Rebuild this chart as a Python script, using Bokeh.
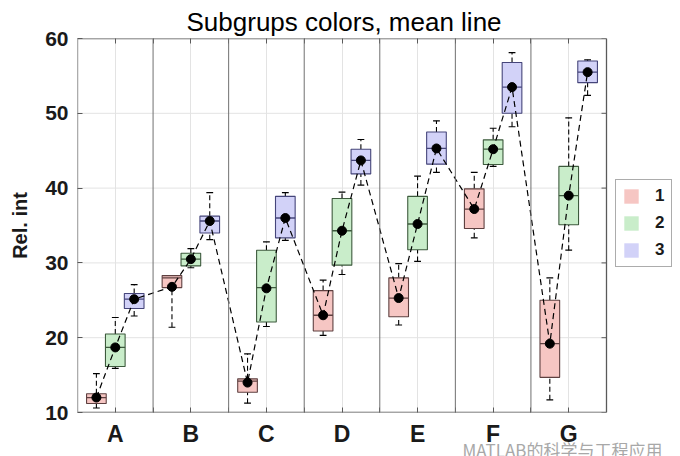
from bokeh.plotting import figure
from bokeh.models import (Span, Legend, LegendItem, LinearAxis, Title,
                          FixedTicker, ColumnDataSource)
from bokeh.embed import file_html
from bokeh.resources import INLINE

groups = ["A", "B", "C", "D", "E", "F", "G"]
subgroups = ["1", "2", "3"]

# subgroup 1 (red)
lo1 = [10.6, 21.4, 11.25, 20.3, 21.7, 33.35, 11.7]
q1_1 = [11.2, 26.7, 12.7, 20.9, 22.8, 34.6, 14.7]
med1 = [12.0, 28.0, 14.2, 23.0, 25.3, 37.2, 19.2]
q3_1 = [12.5, 28.3, 14.5, 26.3, 28.0, 39.9, 25.0]
hi1 = [15.2, 28.3, 17.85, 27.7, 29.9, 42.1, 28.0]
mean1 = [12.0, 26.8, 14.0, 23.0, 25.3, 37.2, 19.2]

# subgroup 2 (green)
lo2 = [15.9, 29.35, 21.5, 28.45, 30.2, 42.9, 31.7]
q1_2 = [16.15, 29.6, 22.1, 29.7, 31.75, 43.15, 35.1]
med2 = [18.7, 30.5, 26.7, 34.3, 35.2, 45.2, 39.0]
q3_2 = [20.5, 31.3, 31.7, 38.6, 38.9, 46.45, 42.9]
hi2 = [22.7, 31.9, 32.8, 39.45, 41.6, 48.0, 49.4]
mean2 = [18.7, 30.5, 26.6, 34.3, 35.2, 45.2, 39.0]

# subgroup 3 (blue)
lo3 = [22.9, 33.1, 33.0, 40.4, 42.1, 48.2, 52.4]
q1_3 = [23.9, 34.0, 33.35, 41.9, 43.2, 50.0, 54.1]
med3 = [25.15, 35.6, 36.0, 43.7, 45.3, 53.5, 55.5]
q3_3 = [25.9, 36.25, 38.9, 45.2, 47.5, 56.8, 57.0]
hi3 = [27.1, 39.4, 39.4, 46.5, 49.0, 58.1, 57.15]
mean3 = [25.15, 35.6, 36.0, 43.7, 45.3, 53.5, 55.5]

y_ticks = [10, 20, 30, 40, 50, 60]

stats = [
    (lo1, q1_1, med1, q3_1, hi1, mean1),
    (lo2, q1_2, med2, q3_2, hi2, mean2),
    (lo3, q1_3, med3, q3_3, hi3, mean3),
]

fills = ["#F6C6C3", "#C9EDCA", "#D2D2F8"]
edges = ["#5e4040", "#3d5a3d", "#45457a"]
offsets = [-0.25, 0.0, 0.25]
box_w = 0.26
cap_w = 0.09

FONT = "Liberation Sans"
AX = "#5a5a5a"

W, H = 680, 456
left_px, plot_px, top_px, plot_h_px = 77, 529, 38, 374
right_px = W - left_px - plot_px          # room kept for the legend
n = len(groups)
unit_px = plot_px / n
x_lo, x_hi = 0.5, n + 0.5
y_lo, y_hi = y_ticks[0], y_ticks[-1]

p = figure(width=W, height=H,
           x_range=(x_lo, x_hi + right_px / unit_px),
           y_range=(y_lo, y_hi),
           output_backend="svg", toolbar_location=None,
           title="Subgrups colors, mean line",
           min_border_left=left_px, min_border_right=0,
           min_border_top=top_px, min_border_bottom=H - top_px - plot_h_px)
p.background_fill_color = "white"
p.border_fill_color = "white"
p.outline_line_color = None

p.title.align = "left"
p.title.offset = 109
p.title.text_font = FONT
p.title.text_font_size = "26px"
p.title.text_font_style = "normal"
p.title.text_color = "black"
p.title.standoff = 4

centers = [i + 1 for i in range(n)]
bounds = [i + 1.5 for i in range(n - 1)]

# grids
p.xgrid.ticker = FixedTicker(ticks=centers)
p.xgrid.grid_line_color = "#e3e3e3"
p.ygrid.grid_line_color = None
p.segment(x0=[x_lo] * len(y_ticks), x1=[x_hi] * len(y_ticks),
          y0=y_ticks, y1=y_ticks, line_color="#e3e3e3", line_width=1)

for b in bounds:
    p.add_layout(Span(location=b, dimension="height", line_color="#707070",
                      line_width=1))

# plot box and right-hand inner ticks
p.quad(left=[x_lo], right=[x_hi], bottom=[y_lo], top=[y_hi],
       fill_color=None, line_color=AX, line_width=1.3)
tick_u = 5 / unit_px
p.segment(x0=[x_hi - tick_u] * len(y_ticks), x1=[x_hi] * len(y_ticks),
          y0=y_ticks, y1=y_ticks, line_color=AX, line_width=1)

# axes
p.xaxis.ticker = FixedTicker(ticks=centers, minor_ticks=bounds)
p.xaxis.major_label_overrides = {c: g for c, g in zip(centers, groups)}
p.xaxis.major_label_text_font = FONT
p.xaxis.major_label_text_font_style = "bold"
p.xaxis.major_label_text_font_size = "23px"
p.xaxis.major_label_text_color = "#1a1a1a"
p.xaxis.major_label_standoff = 8

p.yaxis.ticker = FixedTicker(ticks=y_ticks)
p.yaxis.major_label_text_font = FONT
p.yaxis.major_label_text_font_style = "bold"
p.yaxis.major_label_text_font_size = "21px"
p.yaxis.major_label_text_color = "#1a1a1a"
p.yaxis.major_label_standoff = 9
p.yaxis.axis_label = "Rel. int"
p.yaxis.axis_label_text_font = FONT
p.yaxis.axis_label_text_font_style = "bold"
p.yaxis.axis_label_text_font_size = "20px"
p.yaxis.axis_label_text_color = "#1a1a1a"
p.yaxis.axis_label_standoff = 11

top_ax = LinearAxis(ticker=FixedTicker(ticks=centers, minor_ticks=bounds))
p.add_layout(top_ax, "above")
top_ax.major_label_text_font_size = "0px"
top_ax.major_label_text_color = None
top_ax.major_label_standoff = 0

for ax in p.axis:
    ax.axis_line_color = None
    ax.major_tick_in = 5
    ax.major_tick_out = 0
    ax.minor_tick_in = 5
    ax.minor_tick_out = 0
    ax.major_tick_line_color = AX
    ax.minor_tick_line_color = AX
p.yaxis.minor_tick_line_color = None

# watermark text below the plot, right side
wm = Title(text="MATLAB的科学与工程应用", align="right", offset=18,
           vertical_align="middle", standoff=-90,
           text_font="Noto Sans CJK SC", text_font_size="17px",
           text_font_style="normal", text_color="#a8a8a8")
p.add_layout(wm, "below")

# boxes
legend_items = []
for k, (lo, q1, med, q3, hi, mn) in enumerate(stats):
    xs = [c + offsets[k] for c in centers]
    src = ColumnDataSource(dict(x=xs, lo=lo, q1=q1, med=med, q3=q3, hi=hi,
                                xl=[x - box_w / 2 for x in xs],
                                xr=[x + box_w / 2 for x in xs],
                                cl=[x - cap_w / 2 for x in xs],
                                cr=[x + cap_w / 2 for x in xs]))
    p.segment(x0="x", y0="q3", x1="x", y1="hi", source=src,
              line_color="black", line_width=1.1, line_dash="5 3")
    p.segment(x0="x", y0="lo", x1="x", y1="q1", source=src,
              line_color="black", line_width=1.1, line_dash="5 3")
    p.segment(x0="cl", y0="hi", x1="cr", y1="hi", source=src,
              line_color="black", line_width=1.2)
    p.segment(x0="cl", y0="lo", x1="cr", y1="lo", source=src,
              line_color="black", line_width=1.2)
    fill_r = p.vbar(x="x", width=box_w, bottom="q1", top="q3", source=src,
                    fill_color=fills[k], line_color=None)
    p.vbar(x="x", width=box_w, bottom="q1", top="q3", source=src,
           fill_color=None, line_color=edges[k], line_width=1.1)
    p.segment(x0="xl", y0="med", x1="xr", y1="med", source=src,
              line_color=edges[k], line_width=1.3)
    legend_items.append(LegendItem(label=subgroups[k], renderers=[fill_r]))

# mean line through all subgroups in order
mx, my = [], []
for i in range(n):
    for k in range(len(subgroups)):
        mx.append(centers[i] + offsets[k])
        my.append(stats[k][5][i])
p.line(mx, my, line_color="black", line_width=1.2, line_dash="6 4")
p.scatter(mx, my, size=9, fill_color="black", line_color="black")

legend = Legend(items=legend_items, location=(plot_px + 9, 145))
legend.label_text_font = FONT
legend.label_text_font_style = "bold"
legend.label_text_font_size = "17px"
legend.label_text_color = "#1a1a1a"
legend.glyph_width = 18
legend.glyph_height = 18
legend.label_height = 18
legend.label_width = 10
legend.label_standoff = 15
legend.spacing = 7
legend.padding = 6
legend.margin = 0
legend.border_line_color = AX
legend.border_line_width = 1
legend.background_fill_color = "white"
p.add_layout(legend)

open("out.html", "w").write(file_html(p, INLINE))
